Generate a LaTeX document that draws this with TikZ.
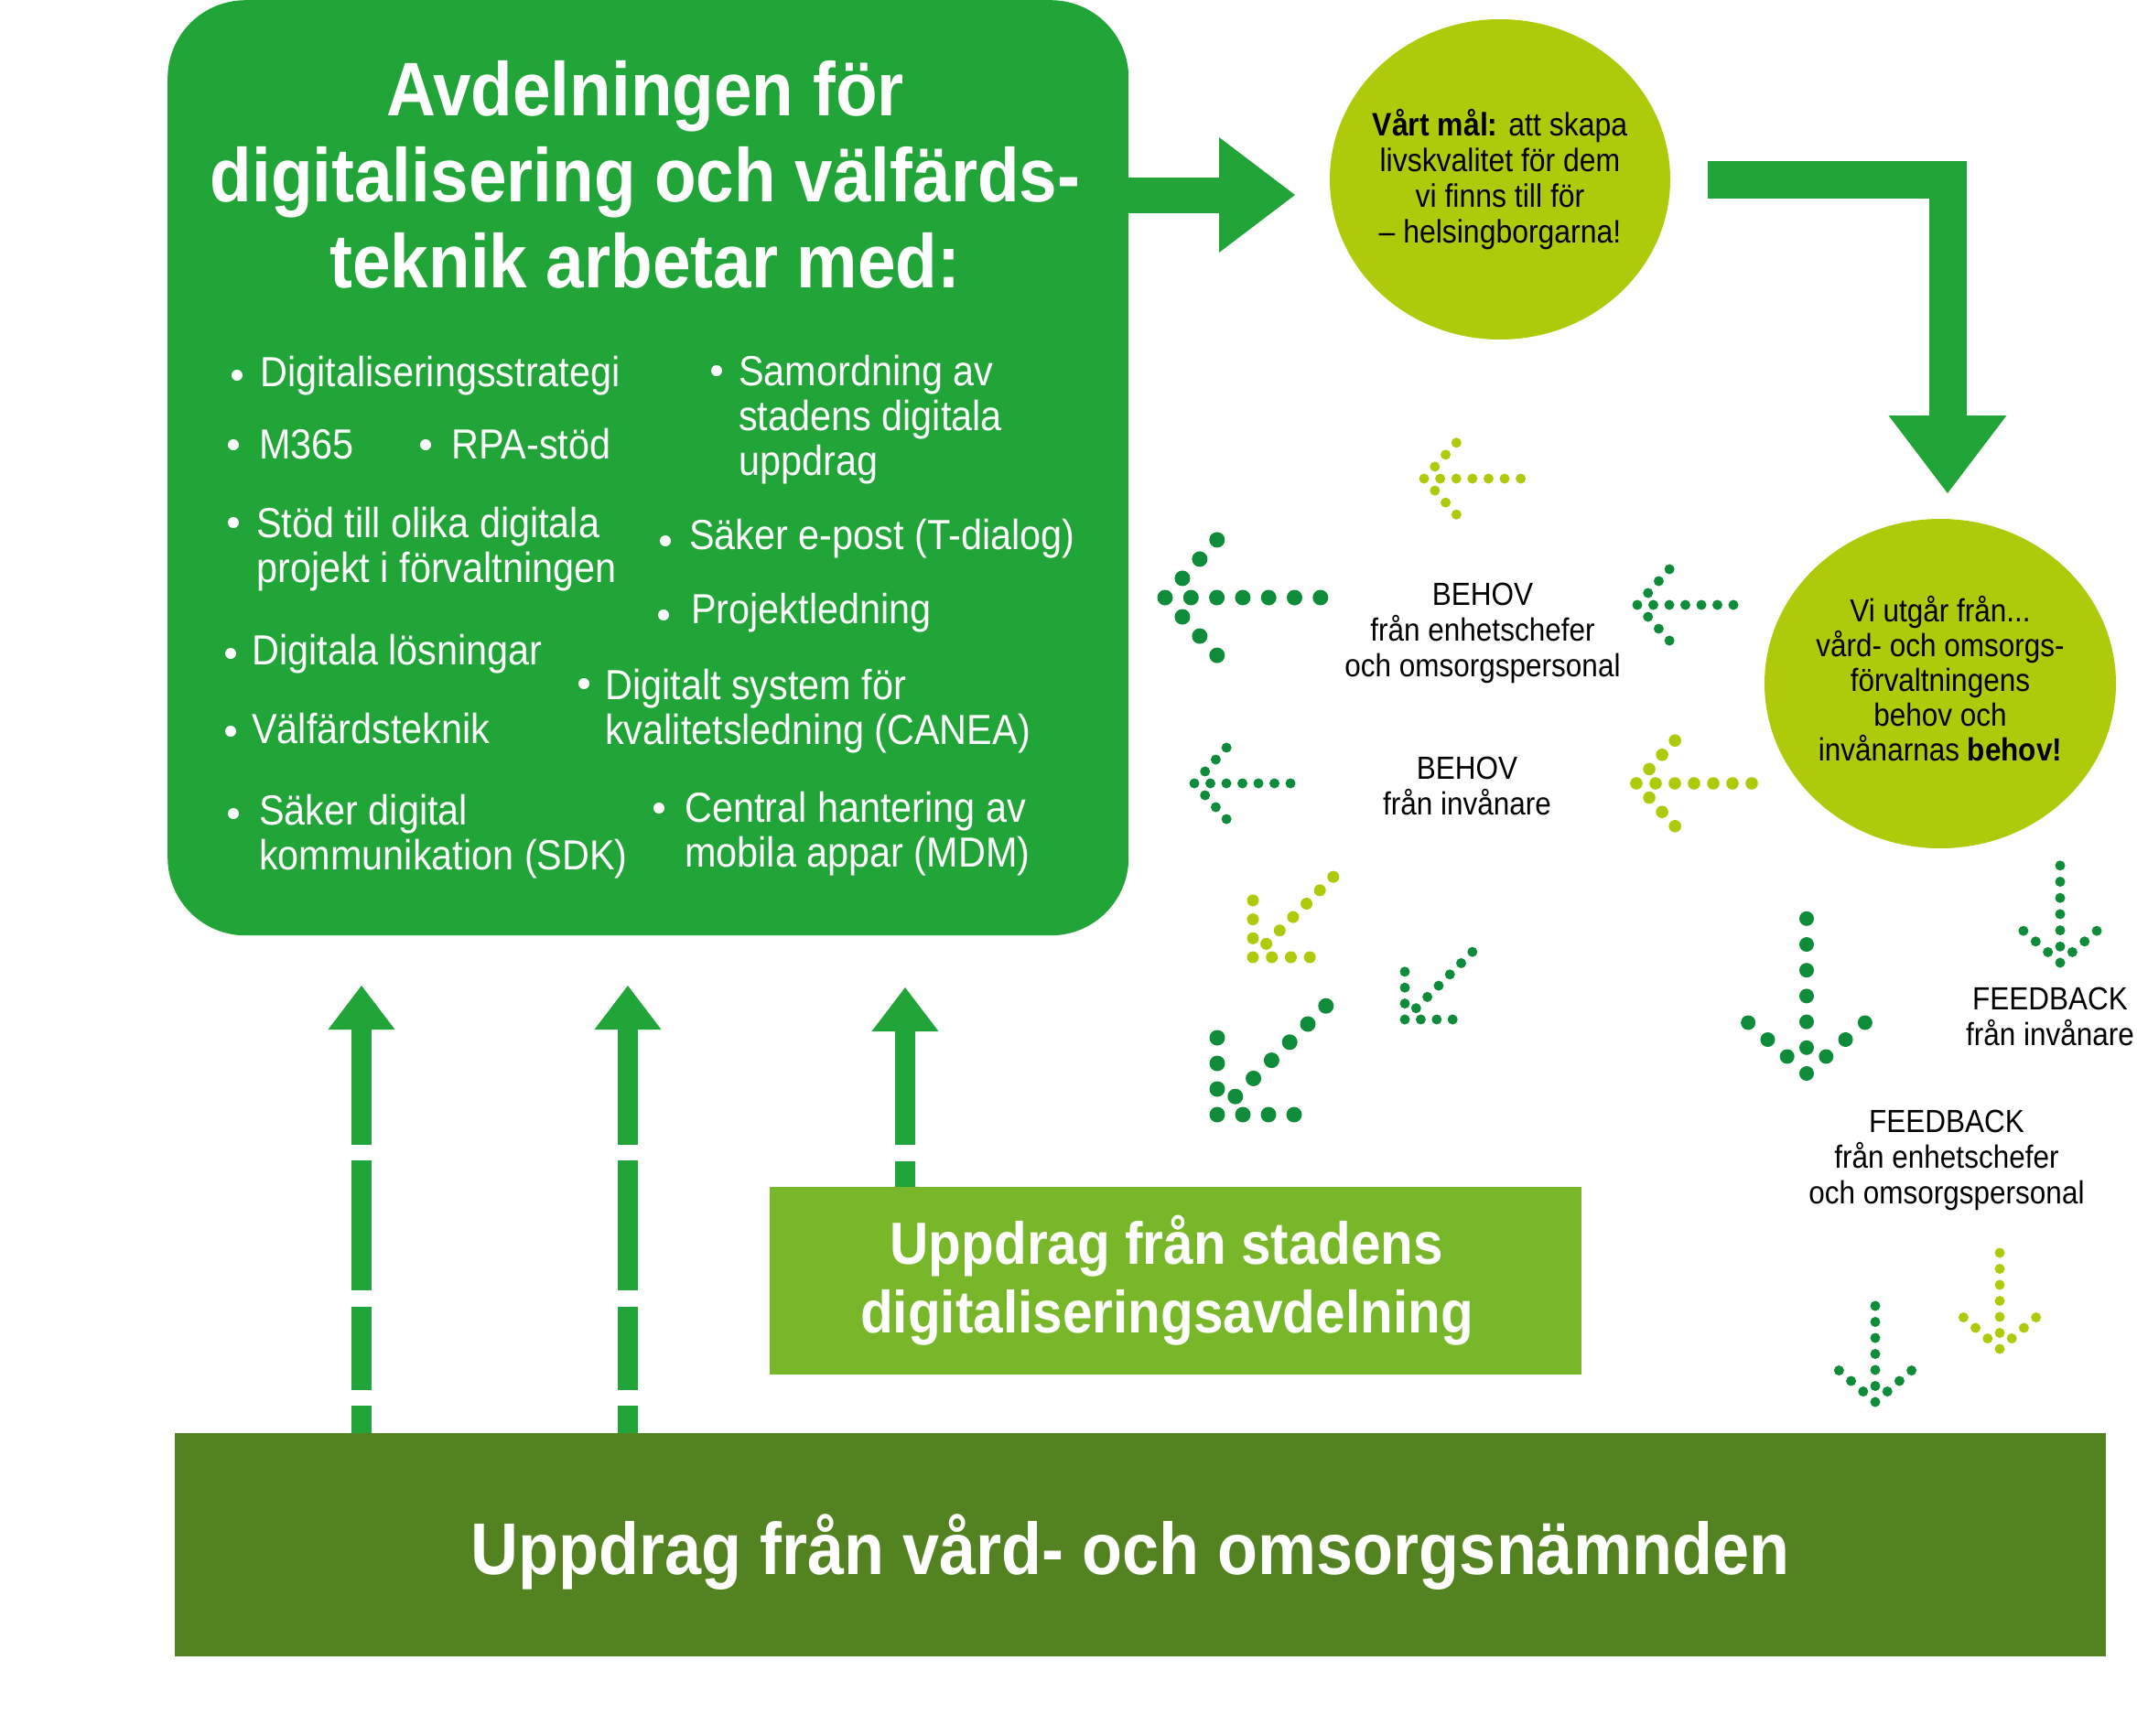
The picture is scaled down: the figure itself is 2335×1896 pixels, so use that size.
\documentclass[tikz,border=0pt]{standalone}
\usepackage{fontspec}
\setmainfont{Liberation Sans}[FakeStretch=0.9]
\usetikzlibrary{arrows.meta,shapes.geometric}
\definecolor{mgreen}{RGB}{34,165,56}
\definecolor{lime}{RGB}{175,202,11}
\definecolor{dgreen}{RGB}{14,140,58}
\definecolor{boxlight}{RGB}{121,183,42}
\definecolor{boxdark}{RGB}{83,130,32}
\tikzset{
  ttlstyle/.style={text=white, font=\bfseries\fontsize{83}{94}\selectfont, inner sep=0pt, anchor=base, align=center},
  itemtxt/.style={text=white, font=\fontsize{46}{49}\selectfont, inner sep=0pt, anchor=base west, align=left},
  lbl/.style={text=black, font=\fontsize{35}{39}\selectfont, inner sep=0pt, anchor=base, align=center},
  boxtxt/.style={text=white, inner sep=0pt, anchor=base, align=center},
  upshaft/.style={mgreen, line width=22pt, -{Triangle[width=73pt,length=48pt,line width=0pt]}},
}
\newcommand\bdot[2]{\fill[white] (#1,#2) circle (6);}
% tip x, tip y, pointing angle, spacing, radius, arm angle, colour
\newcommand\dotarrow[7]{%
  \begin{scope}[shift={(#1,#2)},rotate=#3]
    \foreach \i in {0,...,6}{\fill[#7] ({-\i*#4},0) circle (#5);}
    \foreach \k in {1,2,3}{%
      \fill[#7] ({-\k*#4*cos(#6)},{\k*#4*sin(#6)}) circle (#5);
      \fill[#7] ({-\k*#4*cos(#6)},{-\k*#4*sin(#6)}) circle (#5);}
  \end{scope}}
\begin{document}
\begin{tikzpicture}[x=1pt,y=-1pt]
\useasboundingbox (0,0) rectangle (2335,1896);

% main box (multi-line nodes are placed by the baseline of their last line)
\node[fill=mgreen, rounded corners=85pt, minimum width=1050pt, minimum height=1022pt, anchor=north west, inner sep=0pt] (main) at (183,0) {};
\node[ttlstyle] (ttl) at (705,314) {Avdelningen för\\digitalisering och välfärds-\\teknik arbetar med:};

% bullets
\bdot{259}{410} \node[itemtxt] (i1) at (284,422) {Digitaliseringsstrategi};
\bdot{255}{486} \node[itemtxt] (i2) at (283,501) {M365};
\bdot{465}{486} \node[itemtxt] (i3) at (493,501) {RPA-stöd};
\bdot{255}{571} \node[itemtxt] (i4) at (280,636) {Stöd till olika digitala\\projekt i förvaltningen};
\bdot{252}{714} \node[itemtxt] (i5) at (275,726) {Digitala lösningar};
\bdot{252}{799} \node[itemtxt] (i6) at (275,812) {Välfärdsteknik};
\bdot{255}{889} \node[itemtxt] (i7) at (283,950) {Säker digital\\kommunikation (SDK)};
\bdot{783}{405} \node[itemtxt] (i8) at (807,519) {Samordning av\\stadens digitala\\uppdrag};
\bdot{727}{591} \node[itemtxt] (i9) at (753,600) {Säker e-post (T-dialog)};
\bdot{725}{672} \node[itemtxt] (i10) at (755,681) {Projektledning};
\bdot{638}{747} \node[itemtxt] (i11) at (661,813) {Digitalt system för\\kvalitetsledning (CANEA)};
\bdot{720}{883} \node[itemtxt] (i12) at (748,947) {Central hantering av\\mobila appar (MDM)};

% circles
\node[ellipse, fill=lime, minimum width=372pt, minimum height=350pt, inner sep=0pt] (goal) at (1639,196) {};
\node[lbl, font=\fontsize{35.5}{39}\selectfont] (goalt) at (1639,265) {\textbf{Vårt mål:} att skapa\\livskvalitet för dem\\vi finns till för\\– helsingborgarna!};
\node[ellipse, fill=lime, minimum width=384pt, minimum height=360pt, inner sep=0pt] (vi) at (2120,747) {};
\node[lbl, font=\fontsize{35}{38}\selectfont] (vit) at (2120,831) {Vi utgår från...\\vård- och omsorgs-\\förvaltningens\\behov och\\invånarnas \textbf{behov!}};

% big arrows
\coordinate (a1) at (1415,213);
\draw[mgreen, line width=39pt, -{Triangle[width=126pt,length=83pt,line width=0pt]}] (main.east |- a1) -- (a1);
\coordinate (l1) at (1866,196);
\coordinate (l2) at (2128,196);
\coordinate (l3) at (2128,539);
\draw[mgreen, line width=41pt, line join=miter, -{Triangle[width=129pt,length=85pt,line width=0pt]}] (l1) -- (l2) -- (l3);

% labels
\node[lbl] (b1) at (1620,739) {BEHOV\\från enhetschefer\\och omsorgspersonal};
\node[lbl] (b2) at (1603,890) {BEHOV\\från invånare};
\node[lbl] (f1) at (2240,1142) {FEEDBACK\\från invånare};
\node[lbl] (f2) at (2127,1315) {FEEDBACK\\från enhetschefer\\och omsorgspersonal};

% dotted arrows
\dotarrow{1556}{523}{180}{17.6}{5.5}{48}{lime}
\dotarrow{1273}{653}{180}{28.3}{8.5}{48}{dgreen}
\dotarrow{1789}{661}{180}{17.5}{5.5}{48}{dgreen}
\dotarrow{1305}{856}{180}{17.5}{5.5}{48}{dgreen}
\dotarrow{1788}{856}{180}{21}{6.8}{48}{lime}
\dotarrow{1974}{1173}{-90}{28.2}{8}{49}{dgreen}
\dotarrow{2251}{1052}{-90}{17.7}{5.5}{49}{dgreen}
\dotarrow{2049}{1532}{-90}{17.5}{5.5}{49}{dgreen}
\dotarrow{2185}{1474}{-90}{17.5}{5.5}{49}{lime}
\dotarrow{1369}{1046}{225}{20.7}{6.5}{45}{lime}
\dotarrow{1535}{1114}{225}{17.4}{5.5}{45}{dgreen}
\dotarrow{1330}{1218}{225}{28}{8.5}{45}{dgreen}

% bottom boxes
\node[fill=boxlight, minimum width=887pt, minimum height=205pt, anchor=north west, inner sep=0pt] (sd) at (841,1297) {};
\node[boxtxt, font=\bfseries\fontsize{65}{75}\selectfont] (sdt) at (1275,1456) {Uppdrag från stadens\\digitaliseringsavdelning};
\node[fill=boxdark, minimum width=2110pt, minimum height=244pt, anchor=north west, inner sep=0pt] (nam) at (191,1566) {};
\node[boxtxt, font=\bfseries\fontsize{80}{90}\selectfont] (namt) at (1235,1720) {Uppdrag från vård- och omsorgsnämnden};

% dashed up arrows
\coordinate (u1) at (395,1077);
\coordinate (u2) at (686,1077);
\coordinate (u3) at (989,1079);
\draw[upshaft, dash pattern=on 30pt off 17pt on 91pt off 18pt on 142pt off 17pt on 400pt off 1pt] (nam.north -| u1) -- (u1);
\draw[upshaft, dash pattern=on 30pt off 17pt on 91pt off 18pt on 142pt off 17pt on 400pt off 1pt] (nam.north -| u2) -- (u2);
\draw[upshaft, dash pattern=on 28pt off 18pt on 400pt off 1pt] (sd.north -| u3) -- (u3);
\end{tikzpicture}
\end{document}
